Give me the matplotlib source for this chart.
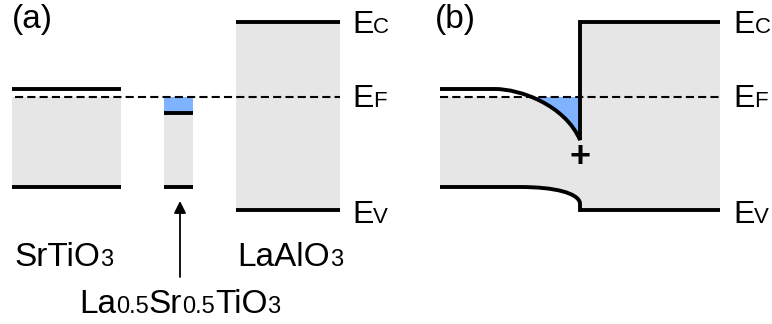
import matplotlib
matplotlib.use("Agg")
import matplotlib.pyplot as plt
from matplotlib.path import Path
from matplotlib.patches import PathPatch, Rectangle

plt.rcParams['font.family'] = ['Liberation Sans', 'DejaVu Sans']

# energy levels (pixel rows of the schematic, y grows downward)
EF = 97
# panel (a): flat bands, [x0, x1, Ec, Ev, top of gray fill]
sto_a = [12, 121, 89, 187, 97]
lsto_a = [164, 193, 113, 187, 113]
lao_a = [236, 340, 22, 210, 22]
# panel (b): interface, band bending control points (Bezier)
x_left_b, x_int_b, x_right_b = 440, 580, 720
cb_bend = [(495, 89), (520, 89), (565, 105), (580, 140)]
vb_bend = [(520, 187), (555, 187), (578, 193), (580, 203)]
lao_b = [22, 210]

gray = '#e6e6e6'
blue = '#80b3ff'
lw = 2.8
BIG, SMALL = 24, 17

fig = plt.figure(figsize=(7.72, 3.24), dpi=100)
ax = fig.add_axes([0, 0, 1, 1])
ax.set_xlim(0, 772)
ax.set_ylim(324, 0)
ax.axis('off')

# ---- panel (a)
for x0, x1, ec, ev, top in [sto_a, lsto_a, lao_a]:
    ax.add_patch(Rectangle((x0, top), x1 - x0, ev - top, fc=gray, ec='none', zorder=1))
    ax.plot([x0, x1], [ec, ec], color='k', lw=lw, solid_capstyle='butt', zorder=3)
    ax.plot([x0, x1], [ev, ev], color='k', lw=lw, solid_capstyle='butt', zorder=3)
# electrons in LSTO
x0, x1, ec = lsto_a[:3]
ax.add_patch(Rectangle((x0, EF), x1 - x0, ec - EF, fc=blue, ec='none', zorder=2))
ax.plot([15, 340], [EF, EF], color='k', lw=1.5, dashes=(3.9, 2.0), zorder=4)

# arrow to LSTO
ax.annotate('', xy=(180, 201), xytext=(180, 277),
            arrowprops=dict(arrowstyle='-|>', color='k', lw=1.3,
                            mutation_scale=18, shrinkA=0, shrinkB=0))

# ---- panel (b)
C4 = Path.CURVE4
# gray in STO side
verts = [(x_left_b, EF), (x_int_b, EF), vb_bend[3]] + vb_bend[2::-1] + \
        [(x_left_b, vb_bend[0][1]), (x_left_b, EF)]
codes = [Path.MOVETO, Path.LINETO, Path.LINETO, C4, C4, Path.LINETO,
         Path.LINETO, Path.CLOSEPOLY]
ax.add_patch(PathPatch(Path(verts, codes), fc=gray, ec='none', zorder=1))
ax.add_patch(Rectangle((x_int_b, lao_b[0]), x_right_b - x_int_b, lao_b[1] - lao_b[0],
                       fc=gray, ec='none', zorder=1))
# electron gas (region between EF and bent CB)
verts = cb_bend + [(x_int_b, 60), (cb_bend[0][0], 60), cb_bend[0]]
codes = [Path.MOVETO, C4, C4, C4, Path.LINETO, Path.LINETO, Path.CLOSEPOLY]
p = PathPatch(Path(verts, codes), fc=blue, ec='none', zorder=2)
ax.add_patch(p)
clip = Rectangle((x_left_b, EF), x_int_b - x_left_b, 100, transform=ax.transData)
p.set_clip_path(clip)

# conduction band line
verts = [(x_left_b, cb_bend[0][1])] + cb_bend + [(x_int_b, lao_b[0]), (x_right_b, lao_b[0])]
codes = [Path.MOVETO, Path.LINETO, C4, C4, C4, Path.LINETO, Path.LINETO]
ax.add_patch(PathPatch(Path(verts, codes), fc='none', ec='k', lw=lw,
                       joinstyle='miter', capstyle='butt', zorder=3))
# valence band line
verts = [(x_left_b, vb_bend[0][1])] + vb_bend + [(x_int_b, lao_b[1]), (x_right_b, lao_b[1])]
ax.add_patch(PathPatch(Path(verts, codes), fc='none', ec='k', lw=lw,
                       joinstyle='miter', capstyle='butt', zorder=3))
ax.plot([x_left_b, x_right_b], [EF, EF], color='k', lw=1.5, dashes=(3.9, 2.0), zorder=4)
ax.text(x_int_b, 157, '+', fontsize=26, fontweight='bold', ha='center', va='center')

# ---- text with small "subscripts" on the baseline
fig.canvas.draw()
renderer = fig.canvas.get_renderer()


def seq_text(x, y, parts, big=BIG, small=SMALL):
    for s, is_small in parts:
        t = ax.text(x, y, s, fontsize=small if is_small else big,
                    ha='left', va='baseline')
        bb = t.get_window_extent(renderer=renderer)
        x += bb.width * 772 / fig.bbox.width


for xe in [352, 733]:
    seq_text(xe, 33, [('E', 0), ('C', 1)], big=23, small=16)
    seq_text(xe, 107, [('E', 0), ('F', 1)], big=23, small=16)
    seq_text(xe, 223, [('E', 0), ('V', 1)], big=23, small=16)

seq_text(14, 266, [('SrTiO', 0), ('3', 1)])
seq_text(237, 266, [('LaAlO', 0), ('3', 1)])
seq_text(79, 313, [('La', 0), ('0.5', 1), ('Sr', 0), ('0.5', 1), ('TiO', 0), ('3', 1)])
ax.text(12, 28, '(a)', fontsize=BIG, ha='left', va='baseline')
ax.text(435, 28, '(b)', fontsize=BIG, ha='left', va='baseline')

fig.savefig('out.png', dpi=100)
